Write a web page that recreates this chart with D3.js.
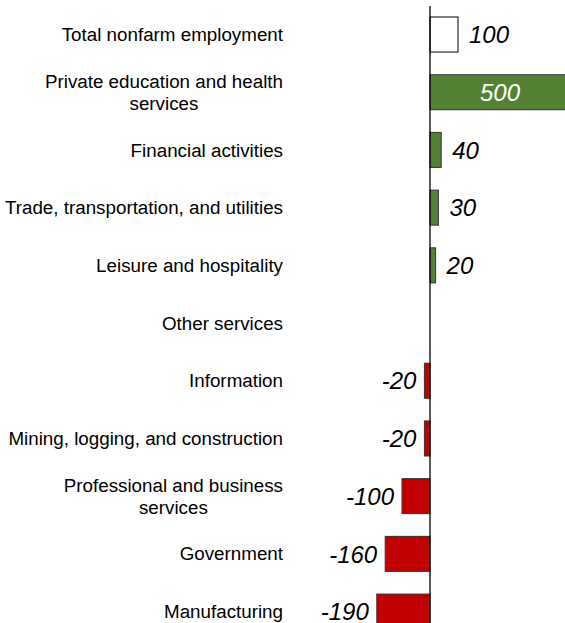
<!DOCTYPE html>
<html lang="en">
<head>
<meta charset="UTF-8">
<script src="https://d3js.org/d3.v7.min.js"></script>
<style>
  body { margin: 0; background: #fff; }
  svg { display: block; font-family: "Liberation Sans", Arial, sans-serif; }
</style>
</head>
<body>
<div id="chart"></div>
<script>
// data (thousands of jobs)
const categories = [
  ["Total nonfarm employment"],
  ["Private education and health", "services"],
  ["Financial activities"],
  ["Trade, transportation, and utilities"],
  ["Leisure and hospitality"],
  ["Other services"],
  ["Information"],
  ["Mining, logging, and construction"],
  ["Professional and business", "services"],
  ["Government"],
  ["Manufacturing"]
];
const values = [100, 500, 40, 30, 20, 0, -20, -20, -100, -160, -190];
const isTotal = [true, false, false, false, false, false, false, false, false, false, false];

const W = 565, H = 623;
const zeroX = 430, pxPerUnit = 0.28;
const labelRight = 283;

const svg = d3.select("#chart").append("svg")
  .attr("width", W).attr("height", H);

const x = d3.scaleLinear()
  .domain([0, 100])
  .range([zeroX, zeroX + 100 * pxPerUnit]);

const keys = categories.map((c, i) => i);
const y = d3.scaleBand()
  .domain(keys)
  .range([5.7, 5.7 + 57.7 * keys.length])
  .paddingInner(0.393)
  .paddingOuter(0.196);

// bars
const barG = svg.append("g");
values.forEach((v, i) => {
  if (v === 0) return;
  barG.append("rect")
    .attr("x", Math.min(x(0), x(v)))
    .attr("y", y(i))
    .attr("width", Math.abs(x(v) - x(0)))
    .attr("height", y.bandwidth())
    .attr("fill", isTotal[i] ? "#ffffff" : (v > 0 ? "#548235" : "#c00000"))
    .attr("stroke", isTotal[i] ? "#000" : "#333")
    .attr("stroke-width", 1);
});

// zero line
svg.append("line")
  .attr("x1", x(0)).attr("x2", x(0))
  .attr("y1", 6).attr("y2", H)
  .attr("stroke", "#000").attr("stroke-width", 1.3);

// value labels
values.forEach((v, i) => {
  if (v === 0) return;
  const cy = y(i) + y.bandwidth() / 2;
  const t = svg.append("text")
    .attr("y", cy)
    .attr("dy", "0.36em")
    .style("font-size", "24px")
    .style("font-style", "italic")
    .text(v);
  const barW = Math.abs(x(v) - x(0));
  if (v > 0 && barW > 60) {
    t.attr("x", (x(0) + x(v)) / 2).attr("text-anchor", "middle").attr("fill", "#fff");
  } else if (v > 0) {
    t.attr("x", x(v) + 11).attr("text-anchor", "start").attr("fill", "#000");
  } else {
    t.attr("x", x(v) - 8).attr("text-anchor", "end").attr("fill", "#000");
  }
});

// category labels
categories.forEach((lines, i) => {
  const cy = y(i) + y.bandwidth() / 2;
  const g = svg.append("g");
  const lh = 22;
  const texts = lines.map((line, k) => g.append("text")
    .attr("y", cy + (k - (lines.length - 1) / 2) * lh)
    .attr("dy", "0.35em")
    .style("font-size", "18.8px")
    .attr("fill", "#000")
    .text(line));
  const maxW = d3.max(texts, t => t.node().getComputedTextLength());
  texts.forEach(t => t.attr("x", labelRight - maxW / 2).attr("text-anchor", "middle"));
});
</script>
</body>
</html>
